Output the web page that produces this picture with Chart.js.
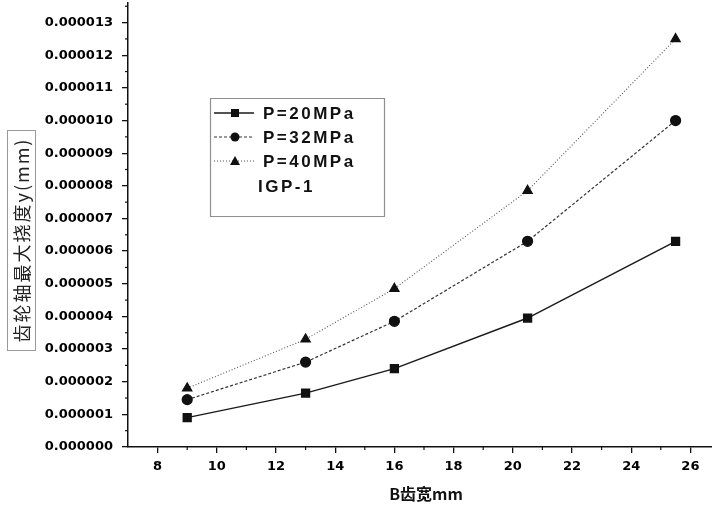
<!DOCTYPE html>
<html>
<head>
<meta charset="utf-8">
<script src="https://cdn.jsdelivr.net/npm/chart.js@4.4.1/dist/chart.umd.min.js"></script>
<style>
  html, body { margin: 0; padding: 0; background: #fff; }
  #wrap { width: 712px; height: 512px; position: relative; }
</style>
</head>
<body>
<div id="wrap"><canvas id="c" width="712" height="512"></canvas></div>
<script>
// tooth width B (mm)
const widths = [9, 13, 16, 20.5, 25.5];
// max deflection of gear shaft y (mm)
const p20 = [0.0000009, 0.00000165, 0.0000024, 0.00000395, 0.0000063];
const p32 = [0.00000145, 0.0000026, 0.00000385, 0.0000063, 0.00001];
const p40 = [0.0000018, 0.0000033, 0.00000485, 0.00000785, 0.0000125];
const seriesNames = ['P=20MPa', 'P=32MPa', 'P=40MPa'];
const legendNote = 'IGP-1';
const yTitle = '齿轮轴最大挠度y(mm)';
const xTitle = 'B齿宽mm';

const toPts = arr => arr.map((v, i) => ({ x: widths[i], y: v }));

// minor ticks + axis titles + legend box
const decor = {
    id: 'decor',
    afterDraw(chart) {
        const ctx = chart.ctx;
        const xs = chart.scales.x, ys = chart.scales.y;
        ctx.save();
        ctx.strokeStyle = '#111';
        ctx.lineWidth = 1.2;
        // minor ticks
        for (let v = 9; v < xs.max; v += 2) {
            const px = xs.getPixelForValue(v);
            ctx.beginPath(); ctx.moveTo(px, xs.top); ctx.lineTo(px, xs.top + 3); ctx.stroke();
        }
        for (let v = 0.5e-6; v < ys.max; v += 1e-6) {
            const py = ys.getPixelForValue(v);
            ctx.beginPath(); ctx.moveTo(ys.right, py); ctx.lineTo(ys.right - 3, py); ctx.stroke();
        }

        // y title in dotted box
        ctx.setLineDash([1, 1]);
        ctx.lineWidth = 1;
        ctx.strokeStyle = '#333';
        ctx.strokeRect(7.5, 130.5, 28, 220);
        ctx.setLineDash([]);
        ctx.translate(22, 240);
        ctx.rotate(-Math.PI / 2);
        ctx.fillStyle = '#222';
        ctx.font = '18px "Noto Sans CJK SC"';
        ctx.textAlign = 'center';
        ctx.textBaseline = 'middle';
        ctx.letterSpacing = '2px';
        ctx.fillText(yTitle, 0, 0);
        ctx.restore();

        // x title
        ctx.save();
        ctx.fillStyle = '#111';
        ctx.font = 'bold 16px "Noto Sans CJK SC"';
        ctx.textAlign = 'center';
        ctx.textBaseline = 'middle';
        ctx.fillText(xTitle, 426, 494);

        // legend
        const bx = 210, by = 98, bw = 174, bh = 118;
        ctx.setLineDash([1, 1]);
        ctx.strokeStyle = '#222';
        ctx.lineWidth = 1.2;
        ctx.strokeRect(bx + 0.5, by + 0.5, bw, bh);
        ctx.setLineDash([]);
        const rows = [113, 137, 161];
        ctx.font = 'bold 17px "Liberation Sans"';
        ctx.letterSpacing = '2.5px';
        ctx.textAlign = 'left';
        chart.data.datasets.forEach((ds, i) => {
            const ry = rows[i];
            const mx = bx + 25;
            ctx.strokeStyle = ds.borderColor;
            ctx.lineWidth = ds.borderWidth;
            ctx.setLineDash(ds.borderDash || []);
            ctx.beginPath(); ctx.moveTo(bx + 4, ry); ctx.lineTo(bx + 44, ry); ctx.stroke();
            ctx.setLineDash([]);
            ctx.fillStyle = '#111';
            ctx.beginPath();
            if (ds.pointStyle === 'rect') {
                ctx.rect(mx - 4, ry - 4, 8, 8);
            } else if (ds.pointStyle === 'circle') {
                ctx.arc(mx, ry, 4.5, 0, Math.PI * 2);
            } else {
                ctx.moveTo(mx, ry - 5); ctx.lineTo(mx + 5, ry + 4); ctx.lineTo(mx - 5, ry + 4); ctx.closePath();
            }
            ctx.fill();
            ctx.fillText(ds.label, 263, ry + 1);
        });
        ctx.fillText(legendNote, 258, 187);
        ctx.restore();
    }
};

new Chart(document.getElementById('c').getContext('2d'), {
    type: 'line',
    data: {
        datasets: [{
            label: seriesNames[0],
            data: toPts(p20),
            borderColor: '#1a1a1a',
            borderWidth: 1.5,
            pointStyle: 'rect',
            pointRadius: 5.5,
            pointBackgroundColor: '#111',
            pointBorderColor: '#111'
        }, {
            label: seriesNames[1],
            data: toPts(p32),
            borderColor: '#333',
            borderWidth: 1.2,
            borderDash: [3, 2],
            pointStyle: 'circle',
            pointRadius: 5,
            pointBackgroundColor: '#111',
            pointBorderColor: '#111'
        }, {
            label: seriesNames[2],
            data: toPts(p40),
            borderColor: '#555',
            borderWidth: 1.1,
            borderDash: [1, 2],
            pointStyle: 'triangle',
            pointRadius: 5.5,
            pointBackgroundColor: '#111',
            pointBorderColor: '#111'
        }]
    },
    options: {
        responsive: false,
        animation: false,
        layout: { autoPadding: false, padding: { top: 3, right: 0, left: 0, bottom: 0 } },
        plugins: { legend: { display: false }, tooltip: { enabled: false } },
        scales: {
            x: {
                type: 'linear',
                min: 7,
                max: 26.73,
                afterFit: s => { s.height = 65; s.paddingLeft = 0; s.paddingRight = 0; },
                border: { color: '#111', width: 1.5 },
                grid: { drawOnChartArea: false, tickLength: 6, color: '#111', lineWidth: 1.3 },
                ticks: {
                    stepSize: 2,
                    includeBounds: false,
                    maxRotation: 0,
                    padding: 6,
                    color: '#000',
                    font: { family: 'DejaVu Sans', weight: 'bold', size: 13 },
                    callback: v => v % 2 === 0 ? String(v) : ''
                }
            },
            y: {
                min: 0,
                max: 0.0000136,
                afterFit: s => { s.width = 128; s.paddingTop = 0; s.paddingBottom = 0; },
                border: { color: '#111', width: 1.5 },
                grid: { drawOnChartArea: false, tickLength: 6, color: '#111', lineWidth: 1.3 },
                ticks: {
                    stepSize: 0.000001,
                    includeBounds: false,
                    padding: 9,
                    color: '#000',
                    font: { family: 'DejaVu Sans', weight: 'bold', size: 13 },
                    callback: v => v.toFixed(6)
                }
            }
        }
    },
    plugins: [decor]
});
</script>
</body>
</html>
